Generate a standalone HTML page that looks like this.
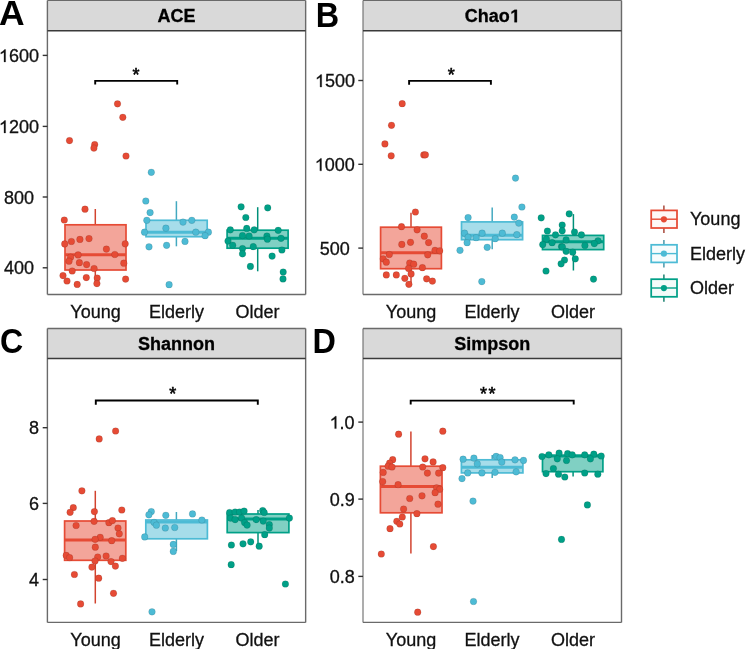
<!DOCTYPE html><html><head><meta charset="utf-8"><style>html,body{margin:0;padding:0;background:#fff;}svg{display:block;will-change:transform;}text{font-family:"Liberation Sans",sans-serif;}</style></head><body>
<svg width="746" height="649" viewBox="0 0 746 649">
<rect x="0" y="0" width="746" height="649" fill="#fff"/>
<rect x="47.4" y="30.7" width="258.25" height="263.80" fill="#fff"/>
<line x1="95.3" y1="209.0" x2="95.3" y2="224.8" stroke="#D2432F" stroke-width="1.5"/>
<line x1="95.3" y1="270.0" x2="95.3" y2="283.6" stroke="#D2432F" stroke-width="1.5"/>
<rect x="65.0" y="224.8" width="61.00" height="45.20" fill="#F3A59A" stroke="#E64B35" stroke-width="1.7"/>
<line x1="65.0" y1="254.8" x2="126.0" y2="254.8" stroke="#E64B35" stroke-width="3"/>
<line x1="176.4" y1="201.2" x2="176.4" y2="220.3" stroke="#44A9C0" stroke-width="1.5"/>
<line x1="176.4" y1="236.7" x2="176.4" y2="246.3" stroke="#44A9C0" stroke-width="1.5"/>
<rect x="146.0" y="220.3" width="61.20" height="16.40" fill="#A6DDEA" stroke="#4DBBD5" stroke-width="1.7"/>
<line x1="146.0" y1="232.2" x2="207.2" y2="232.2" stroke="#4DBBD5" stroke-width="3"/>
<line x1="257.7" y1="207.2" x2="257.7" y2="230.2" stroke="#009079" stroke-width="1.5"/>
<line x1="257.7" y1="248.2" x2="257.7" y2="271.3" stroke="#009079" stroke-width="1.5"/>
<rect x="227.1" y="230.2" width="61.00" height="18.00" fill="#80D0C3" stroke="#00A087" stroke-width="1.7"/>
<line x1="227.1" y1="238.2" x2="288.1" y2="238.2" stroke="#00A087" stroke-width="3"/>
<circle cx="117.5" cy="103.8" r="3.35" fill="#E64B35" stroke="#000" stroke-opacity="0.13" stroke-width="0.8"/>
<circle cx="122.8" cy="117.3" r="3.35" fill="#E64B35" stroke="#000" stroke-opacity="0.13" stroke-width="0.8"/>
<circle cx="69.5" cy="140.6" r="3.35" fill="#E64B35" stroke="#000" stroke-opacity="0.13" stroke-width="0.8"/>
<circle cx="94.7" cy="144.6" r="3.35" fill="#E64B35" stroke="#000" stroke-opacity="0.13" stroke-width="0.8"/>
<circle cx="93.9" cy="148.1" r="3.35" fill="#E64B35" stroke="#000" stroke-opacity="0.13" stroke-width="0.8"/>
<circle cx="126" cy="156" r="3.35" fill="#E64B35" stroke="#000" stroke-opacity="0.13" stroke-width="0.8"/>
<circle cx="85.0" cy="209.2" r="3.35" fill="#E64B35" stroke="#000" stroke-opacity="0.13" stroke-width="0.8"/>
<circle cx="64.3" cy="220" r="3.35" fill="#E64B35" stroke="#000" stroke-opacity="0.13" stroke-width="0.8"/>
<circle cx="64.7" cy="243.9" r="3.35" fill="#E64B35" stroke="#000" stroke-opacity="0.13" stroke-width="0.8"/>
<circle cx="71.4" cy="241.5" r="3.35" fill="#E64B35" stroke="#000" stroke-opacity="0.13" stroke-width="0.8"/>
<circle cx="79.9" cy="239.4" r="3.35" fill="#E64B35" stroke="#000" stroke-opacity="0.13" stroke-width="0.8"/>
<circle cx="89.0" cy="238.6" r="3.35" fill="#E64B35" stroke="#000" stroke-opacity="0.13" stroke-width="0.8"/>
<circle cx="125.2" cy="243.8" r="3.35" fill="#E64B35" stroke="#000" stroke-opacity="0.13" stroke-width="0.8"/>
<circle cx="106.4" cy="249.1" r="3.35" fill="#E64B35" stroke="#000" stroke-opacity="0.13" stroke-width="0.8"/>
<circle cx="114.8" cy="254.5" r="3.35" fill="#E64B35" stroke="#000" stroke-opacity="0.13" stroke-width="0.8"/>
<circle cx="78.1" cy="254.9" r="3.35" fill="#E64B35" stroke="#000" stroke-opacity="0.13" stroke-width="0.8"/>
<circle cx="70.6" cy="257.2" r="3.35" fill="#E64B35" stroke="#000" stroke-opacity="0.13" stroke-width="0.8"/>
<circle cx="69.0" cy="261.2" r="3.35" fill="#E64B35" stroke="#000" stroke-opacity="0.13" stroke-width="0.8"/>
<circle cx="79.4" cy="262.7" r="3.35" fill="#E64B35" stroke="#000" stroke-opacity="0.13" stroke-width="0.8"/>
<circle cx="86.6" cy="264.6" r="3.35" fill="#E64B35" stroke="#000" stroke-opacity="0.13" stroke-width="0.8"/>
<circle cx="123.8" cy="263.2" r="3.35" fill="#E64B35" stroke="#000" stroke-opacity="0.13" stroke-width="0.8"/>
<circle cx="94.1" cy="268.5" r="3.35" fill="#E64B35" stroke="#000" stroke-opacity="0.13" stroke-width="0.8"/>
<circle cx="72.2" cy="271" r="3.35" fill="#E64B35" stroke="#000" stroke-opacity="0.13" stroke-width="0.8"/>
<circle cx="63.0" cy="275.6" r="3.35" fill="#E64B35" stroke="#000" stroke-opacity="0.13" stroke-width="0.8"/>
<circle cx="67.0" cy="281" r="3.35" fill="#E64B35" stroke="#000" stroke-opacity="0.13" stroke-width="0.8"/>
<circle cx="86.3" cy="277.6" r="3.35" fill="#E64B35" stroke="#000" stroke-opacity="0.13" stroke-width="0.8"/>
<circle cx="97.2" cy="278" r="3.35" fill="#E64B35" stroke="#000" stroke-opacity="0.13" stroke-width="0.8"/>
<circle cx="96.9" cy="283.6" r="3.35" fill="#E64B35" stroke="#000" stroke-opacity="0.13" stroke-width="0.8"/>
<circle cx="77.2" cy="284.4" r="3.35" fill="#E64B35" stroke="#000" stroke-opacity="0.13" stroke-width="0.8"/>
<circle cx="125.6" cy="279.1" r="3.35" fill="#E64B35" stroke="#000" stroke-opacity="0.13" stroke-width="0.8"/>
<circle cx="151.3" cy="172.3" r="3.35" fill="#4DBBD5" stroke="#000" stroke-opacity="0.13" stroke-width="0.8"/>
<circle cx="145.8" cy="201" r="3.35" fill="#4DBBD5" stroke="#000" stroke-opacity="0.13" stroke-width="0.8"/>
<circle cx="150.1" cy="212.6" r="3.35" fill="#4DBBD5" stroke="#000" stroke-opacity="0.13" stroke-width="0.8"/>
<circle cx="146.8" cy="220.3" r="3.35" fill="#4DBBD5" stroke="#000" stroke-opacity="0.13" stroke-width="0.8"/>
<circle cx="165.9" cy="228.2" r="3.35" fill="#4DBBD5" stroke="#000" stroke-opacity="0.13" stroke-width="0.8"/>
<circle cx="183" cy="222.1" r="3.35" fill="#4DBBD5" stroke="#000" stroke-opacity="0.13" stroke-width="0.8"/>
<circle cx="191.8" cy="220.3" r="3.35" fill="#4DBBD5" stroke="#000" stroke-opacity="0.13" stroke-width="0.8"/>
<circle cx="144.5" cy="232.2" r="3.35" fill="#4DBBD5" stroke="#000" stroke-opacity="0.13" stroke-width="0.8"/>
<circle cx="195.8" cy="232.2" r="3.35" fill="#4DBBD5" stroke="#000" stroke-opacity="0.13" stroke-width="0.8"/>
<circle cx="208.4" cy="232.2" r="3.35" fill="#4DBBD5" stroke="#000" stroke-opacity="0.13" stroke-width="0.8"/>
<circle cx="205.1" cy="235.7" r="3.35" fill="#4DBBD5" stroke="#000" stroke-opacity="0.13" stroke-width="0.8"/>
<circle cx="185" cy="241.4" r="3.35" fill="#4DBBD5" stroke="#000" stroke-opacity="0.13" stroke-width="0.8"/>
<circle cx="149" cy="246.8" r="3.35" fill="#4DBBD5" stroke="#000" stroke-opacity="0.13" stroke-width="0.8"/>
<circle cx="166.6" cy="245.3" r="3.35" fill="#4DBBD5" stroke="#000" stroke-opacity="0.13" stroke-width="0.8"/>
<circle cx="169.1" cy="284.7" r="3.35" fill="#4DBBD5" stroke="#000" stroke-opacity="0.13" stroke-width="0.8"/>
<circle cx="241.1" cy="206.8" r="3.35" fill="#00A087" stroke="#000" stroke-opacity="0.13" stroke-width="0.8"/>
<circle cx="267.7" cy="207.8" r="3.35" fill="#00A087" stroke="#000" stroke-opacity="0.13" stroke-width="0.8"/>
<circle cx="245.8" cy="217.5" r="3.35" fill="#00A087" stroke="#000" stroke-opacity="0.13" stroke-width="0.8"/>
<circle cx="230.3" cy="229.8" r="3.35" fill="#00A087" stroke="#000" stroke-opacity="0.13" stroke-width="0.8"/>
<circle cx="246.7" cy="228.4" r="3.35" fill="#00A087" stroke="#000" stroke-opacity="0.13" stroke-width="0.8"/>
<circle cx="254.2" cy="229.8" r="3.35" fill="#00A087" stroke="#000" stroke-opacity="0.13" stroke-width="0.8"/>
<circle cx="278.2" cy="230.3" r="3.35" fill="#00A087" stroke="#000" stroke-opacity="0.13" stroke-width="0.8"/>
<circle cx="242.5" cy="235.5" r="3.35" fill="#00A087" stroke="#000" stroke-opacity="0.13" stroke-width="0.8"/>
<circle cx="249.1" cy="236" r="3.35" fill="#00A087" stroke="#000" stroke-opacity="0.13" stroke-width="0.8"/>
<circle cx="266.9" cy="236" r="3.35" fill="#00A087" stroke="#000" stroke-opacity="0.13" stroke-width="0.8"/>
<circle cx="267.4" cy="239.2" r="3.35" fill="#00A087" stroke="#000" stroke-opacity="0.13" stroke-width="0.8"/>
<circle cx="281" cy="238.3" r="3.35" fill="#00A087" stroke="#000" stroke-opacity="0.13" stroke-width="0.8"/>
<circle cx="228" cy="241.1" r="3.35" fill="#00A087" stroke="#000" stroke-opacity="0.13" stroke-width="0.8"/>
<circle cx="232.7" cy="245.3" r="3.35" fill="#00A087" stroke="#000" stroke-opacity="0.13" stroke-width="0.8"/>
<circle cx="242.5" cy="248.6" r="3.35" fill="#00A087" stroke="#000" stroke-opacity="0.13" stroke-width="0.8"/>
<circle cx="253.3" cy="246.7" r="3.35" fill="#00A087" stroke="#000" stroke-opacity="0.13" stroke-width="0.8"/>
<circle cx="242.5" cy="253.8" r="3.35" fill="#00A087" stroke="#000" stroke-opacity="0.13" stroke-width="0.8"/>
<circle cx="281.9" cy="250" r="3.35" fill="#00A087" stroke="#000" stroke-opacity="0.13" stroke-width="0.8"/>
<circle cx="272.1" cy="256.1" r="3.35" fill="#00A087" stroke="#000" stroke-opacity="0.13" stroke-width="0.8"/>
<circle cx="250.4" cy="266.4" r="3.35" fill="#00A087" stroke="#000" stroke-opacity="0.13" stroke-width="0.8"/>
<circle cx="283.2" cy="272" r="3.35" fill="#00A087" stroke="#000" stroke-opacity="0.13" stroke-width="0.8"/>
<circle cx="283" cy="278.9" r="3.35" fill="#00A087" stroke="#000" stroke-opacity="0.13" stroke-width="0.8"/>
<path d="M95.2 84.6 V80.9 H177.2 V84.6" fill="none" stroke="#000" stroke-width="1.9"/>
<text x="135.9" y="80.6" font-size="18" text-anchor="middle" fill="#000" stroke="#000" stroke-width="0.55">*</text>
<rect x="47.4" y="0.4" width="258.25" height="30.30" fill="#D9D9D9"/>
<line x1="47.4" y1="0.4" x2="47.4" y2="294.5" stroke="#6a6a6a" stroke-width="1.4"/>
<line x1="305.65" y1="0.4" x2="305.65" y2="294.5" stroke="#6a6a6a" stroke-width="1.4"/>
<line x1="47.4" y1="0.4" x2="305.65" y2="0.4" stroke="#6a6a6a" stroke-width="1.4"/>
<line x1="47.4" y1="294.5" x2="305.65" y2="294.5" stroke="#6a6a6a" stroke-width="1.4"/>
<line x1="47.4" y1="30.7" x2="305.65" y2="30.7" stroke="#3a3a3a" stroke-width="1.6"/>
<text x="176.52" y="22.20" font-size="18" font-weight="bold" text-anchor="middle" fill="#000"  stroke="#000" stroke-width="0.3">ACE</text>
<line x1="42.70" y1="55.4" x2="47.4" y2="55.4" stroke="#333" stroke-width="1.4"/>
<text x="-1.12" y="61.90" font-size="18" fill="#111"  stroke="#111" stroke-width="0.3"> 600</text>
<path transform="translate(-1.12 61.90) scale(0.008789 -0.008789)" d="M583 0V1102Q413 994 221 894V1061Q466 1180 646 1409H763V0Z" fill="#111" stroke="#111" stroke-width="34.1"/>
<line x1="42.70" y1="126.4" x2="47.4" y2="126.4" stroke="#333" stroke-width="1.4"/>
<text x="-1.12" y="132.90" font-size="18" fill="#111"  stroke="#111" stroke-width="0.3"> 200</text>
<path transform="translate(-1.12 132.90) scale(0.008789 -0.008789)" d="M583 0V1102Q413 994 221 894V1061Q466 1180 646 1409H763V0Z" fill="#111" stroke="#111" stroke-width="34.1"/>
<line x1="42.70" y1="197.0" x2="47.4" y2="197.0" stroke="#333" stroke-width="1.4"/>
<text x="19.10" y="203.50" font-size="18" text-anchor="middle" fill="#111"  stroke="#111" stroke-width="0.3">800</text>
<line x1="42.70" y1="267.8" x2="47.4" y2="267.8" stroke="#333" stroke-width="1.4"/>
<text x="19.00" y="274.30" font-size="18" text-anchor="middle" fill="#111"  stroke="#111" stroke-width="0.3">400</text>
<text x="95.50" y="317.70" font-size="18" text-anchor="middle" fill="#111"  stroke="#111" stroke-width="0.3">Young</text>
<text x="176.50" y="317.70" font-size="18" text-anchor="middle" fill="#111"  stroke="#111" stroke-width="0.3">Elderly</text>
<text x="257.50" y="317.70" font-size="18" text-anchor="middle" fill="#111"  stroke="#111" stroke-width="0.3">Older</text>
<text transform="translate(-0.90 25.2) scale(1.03 1.02)" x="0" y="0" font-size="34.5" font-weight="bold" fill="#000">A</text>
<rect x="363.0" y="30.7" width="258.50" height="263.80" fill="#fff"/>
<line x1="411.0" y1="212.8" x2="411.0" y2="227.2" stroke="#D2432F" stroke-width="1.5"/>
<line x1="411.0" y1="268.7" x2="411.0" y2="284.0" stroke="#D2432F" stroke-width="1.5"/>
<rect x="380.6" y="227.2" width="60.80" height="41.50" fill="#F3A59A" stroke="#E64B35" stroke-width="1.7"/>
<line x1="380.6" y1="252.8" x2="441.4" y2="252.8" stroke="#E64B35" stroke-width="3"/>
<line x1="492.2" y1="207.5" x2="492.2" y2="221.9" stroke="#44A9C0" stroke-width="1.5"/>
<line x1="492.2" y1="239.7" x2="492.2" y2="249.3" stroke="#44A9C0" stroke-width="1.5"/>
<rect x="461.5" y="221.9" width="61.10" height="17.80" fill="#A6DDEA" stroke="#4DBBD5" stroke-width="1.7"/>
<line x1="461.5" y1="235.2" x2="522.6" y2="235.2" stroke="#4DBBD5" stroke-width="3"/>
<line x1="573.4" y1="214.1" x2="573.4" y2="235.4" stroke="#009079" stroke-width="1.5"/>
<line x1="573.4" y1="249.6" x2="573.4" y2="270.5" stroke="#009079" stroke-width="1.5"/>
<rect x="542.5" y="235.4" width="61.20" height="14.20" fill="#80D0C3" stroke="#00A087" stroke-width="1.7"/>
<line x1="542.5" y1="241.8" x2="603.7" y2="241.8" stroke="#00A087" stroke-width="3"/>
<circle cx="402.2" cy="103.7" r="3.35" fill="#E64B35" stroke="#000" stroke-opacity="0.13" stroke-width="0.8"/>
<circle cx="391.5" cy="125.3" r="3.35" fill="#E64B35" stroke="#000" stroke-opacity="0.13" stroke-width="0.8"/>
<circle cx="384.9" cy="143.9" r="3.35" fill="#E64B35" stroke="#000" stroke-opacity="0.13" stroke-width="0.8"/>
<circle cx="391.2" cy="155.8" r="3.35" fill="#E64B35" stroke="#000" stroke-opacity="0.13" stroke-width="0.8"/>
<circle cx="423.8" cy="154.9" r="3.35" fill="#E64B35" stroke="#000" stroke-opacity="0.13" stroke-width="0.8"/>
<circle cx="425.4" cy="154.8" r="3.35" fill="#E64B35" stroke="#000" stroke-opacity="0.13" stroke-width="0.8"/>
<circle cx="415.4" cy="212" r="3.35" fill="#E64B35" stroke="#000" stroke-opacity="0.13" stroke-width="0.8"/>
<circle cx="401.5" cy="226.7" r="3.35" fill="#E64B35" stroke="#000" stroke-opacity="0.13" stroke-width="0.8"/>
<circle cx="417.1" cy="229.8" r="3.35" fill="#E64B35" stroke="#000" stroke-opacity="0.13" stroke-width="0.8"/>
<circle cx="424.3" cy="236.2" r="3.35" fill="#E64B35" stroke="#000" stroke-opacity="0.13" stroke-width="0.8"/>
<circle cx="428.6" cy="242.6" r="3.35" fill="#E64B35" stroke="#000" stroke-opacity="0.13" stroke-width="0.8"/>
<circle cx="401.8" cy="244.4" r="3.35" fill="#E64B35" stroke="#000" stroke-opacity="0.13" stroke-width="0.8"/>
<circle cx="410.5" cy="242.3" r="3.35" fill="#E64B35" stroke="#000" stroke-opacity="0.13" stroke-width="0.8"/>
<circle cx="435" cy="250.3" r="3.35" fill="#E64B35" stroke="#000" stroke-opacity="0.13" stroke-width="0.8"/>
<circle cx="439.7" cy="250.8" r="3.35" fill="#E64B35" stroke="#000" stroke-opacity="0.13" stroke-width="0.8"/>
<circle cx="389.3" cy="254.5" r="3.35" fill="#E64B35" stroke="#000" stroke-opacity="0.13" stroke-width="0.8"/>
<circle cx="427.7" cy="254.8" r="3.35" fill="#E64B35" stroke="#000" stroke-opacity="0.13" stroke-width="0.8"/>
<circle cx="383.2" cy="258.8" r="3.35" fill="#E64B35" stroke="#000" stroke-opacity="0.13" stroke-width="0.8"/>
<circle cx="386.3" cy="262.2" r="3.35" fill="#E64B35" stroke="#000" stroke-opacity="0.13" stroke-width="0.8"/>
<circle cx="409.7" cy="263" r="3.35" fill="#E64B35" stroke="#000" stroke-opacity="0.13" stroke-width="0.8"/>
<circle cx="413.7" cy="264.2" r="3.35" fill="#E64B35" stroke="#000" stroke-opacity="0.13" stroke-width="0.8"/>
<circle cx="408.6" cy="268.4" r="3.35" fill="#E64B35" stroke="#000" stroke-opacity="0.13" stroke-width="0.8"/>
<circle cx="422.4" cy="267.7" r="3.35" fill="#E64B35" stroke="#000" stroke-opacity="0.13" stroke-width="0.8"/>
<circle cx="386.3" cy="274.9" r="3.35" fill="#E64B35" stroke="#000" stroke-opacity="0.13" stroke-width="0.8"/>
<circle cx="396.3" cy="274.9" r="3.35" fill="#E64B35" stroke="#000" stroke-opacity="0.13" stroke-width="0.8"/>
<circle cx="411.1" cy="273.9" r="3.35" fill="#E64B35" stroke="#000" stroke-opacity="0.13" stroke-width="0.8"/>
<circle cx="404.8" cy="278.3" r="3.35" fill="#E64B35" stroke="#000" stroke-opacity="0.13" stroke-width="0.8"/>
<circle cx="408.9" cy="284.3" r="3.35" fill="#E64B35" stroke="#000" stroke-opacity="0.13" stroke-width="0.8"/>
<circle cx="426.6" cy="278.8" r="3.35" fill="#E64B35" stroke="#000" stroke-opacity="0.13" stroke-width="0.8"/>
<circle cx="432.4" cy="281.1" r="3.35" fill="#E64B35" stroke="#000" stroke-opacity="0.13" stroke-width="0.8"/>
<circle cx="515.5" cy="178.1" r="3.35" fill="#4DBBD5" stroke="#000" stroke-opacity="0.13" stroke-width="0.8"/>
<circle cx="521.9" cy="207" r="3.35" fill="#4DBBD5" stroke="#000" stroke-opacity="0.13" stroke-width="0.8"/>
<circle cx="468.1" cy="217.6" r="3.35" fill="#4DBBD5" stroke="#000" stroke-opacity="0.13" stroke-width="0.8"/>
<circle cx="514.3" cy="217.1" r="3.35" fill="#4DBBD5" stroke="#000" stroke-opacity="0.13" stroke-width="0.8"/>
<circle cx="518.8" cy="223.1" r="3.35" fill="#4DBBD5" stroke="#000" stroke-opacity="0.13" stroke-width="0.8"/>
<circle cx="464.6" cy="233.2" r="3.35" fill="#4DBBD5" stroke="#000" stroke-opacity="0.13" stroke-width="0.8"/>
<circle cx="482.1" cy="233.2" r="3.35" fill="#4DBBD5" stroke="#000" stroke-opacity="0.13" stroke-width="0.8"/>
<circle cx="502.3" cy="233.2" r="3.35" fill="#4DBBD5" stroke="#000" stroke-opacity="0.13" stroke-width="0.8"/>
<circle cx="516.8" cy="234.7" r="3.35" fill="#4DBBD5" stroke="#000" stroke-opacity="0.13" stroke-width="0.8"/>
<circle cx="468.1" cy="237.2" r="3.35" fill="#4DBBD5" stroke="#000" stroke-opacity="0.13" stroke-width="0.8"/>
<circle cx="476.1" cy="237.7" r="3.35" fill="#4DBBD5" stroke="#000" stroke-opacity="0.13" stroke-width="0.8"/>
<circle cx="495.2" cy="238.7" r="3.35" fill="#4DBBD5" stroke="#000" stroke-opacity="0.13" stroke-width="0.8"/>
<circle cx="467.1" cy="242.7" r="3.35" fill="#4DBBD5" stroke="#000" stroke-opacity="0.13" stroke-width="0.8"/>
<circle cx="487.2" cy="247.3" r="3.35" fill="#4DBBD5" stroke="#000" stroke-opacity="0.13" stroke-width="0.8"/>
<circle cx="460" cy="250.3" r="3.35" fill="#4DBBD5" stroke="#000" stroke-opacity="0.13" stroke-width="0.8"/>
<circle cx="481.8" cy="281.6" r="3.35" fill="#4DBBD5" stroke="#000" stroke-opacity="0.13" stroke-width="0.8"/>
<circle cx="569.2" cy="213.8" r="3.35" fill="#00A087" stroke="#000" stroke-opacity="0.13" stroke-width="0.8"/>
<circle cx="541.2" cy="217.8" r="3.35" fill="#00A087" stroke="#000" stroke-opacity="0.13" stroke-width="0.8"/>
<circle cx="562.2" cy="225" r="3.35" fill="#00A087" stroke="#000" stroke-opacity="0.13" stroke-width="0.8"/>
<circle cx="562.2" cy="230.8" r="3.35" fill="#00A087" stroke="#000" stroke-opacity="0.13" stroke-width="0.8"/>
<circle cx="547.4" cy="231" r="3.35" fill="#00A087" stroke="#000" stroke-opacity="0.13" stroke-width="0.8"/>
<circle cx="574.5" cy="232" r="3.35" fill="#00A087" stroke="#000" stroke-opacity="0.13" stroke-width="0.8"/>
<circle cx="555.5" cy="234.8" r="3.35" fill="#00A087" stroke="#000" stroke-opacity="0.13" stroke-width="0.8"/>
<circle cx="581.4" cy="234.8" r="3.35" fill="#00A087" stroke="#000" stroke-opacity="0.13" stroke-width="0.8"/>
<circle cx="546.4" cy="239" r="3.35" fill="#00A087" stroke="#000" stroke-opacity="0.13" stroke-width="0.8"/>
<circle cx="566.1" cy="239.9" r="3.35" fill="#00A087" stroke="#000" stroke-opacity="0.13" stroke-width="0.8"/>
<circle cx="552.1" cy="242.7" r="3.35" fill="#00A087" stroke="#000" stroke-opacity="0.13" stroke-width="0.8"/>
<circle cx="598" cy="240.8" r="3.35" fill="#00A087" stroke="#000" stroke-opacity="0.13" stroke-width="0.8"/>
<circle cx="594.3" cy="243.6" r="3.35" fill="#00A087" stroke="#000" stroke-opacity="0.13" stroke-width="0.8"/>
<circle cx="542.7" cy="244.6" r="3.35" fill="#00A087" stroke="#000" stroke-opacity="0.13" stroke-width="0.8"/>
<circle cx="584.9" cy="245.5" r="3.35" fill="#00A087" stroke="#000" stroke-opacity="0.13" stroke-width="0.8"/>
<circle cx="561.5" cy="246.5" r="3.35" fill="#00A087" stroke="#000" stroke-opacity="0.13" stroke-width="0.8"/>
<circle cx="562.4" cy="247" r="3.35" fill="#00A087" stroke="#000" stroke-opacity="0.13" stroke-width="0.8"/>
<circle cx="566.1" cy="251.3" r="3.35" fill="#00A087" stroke="#000" stroke-opacity="0.13" stroke-width="0.8"/>
<circle cx="572.7" cy="252.2" r="3.35" fill="#00A087" stroke="#000" stroke-opacity="0.13" stroke-width="0.8"/>
<circle cx="575.3" cy="258.8" r="3.35" fill="#00A087" stroke="#000" stroke-opacity="0.13" stroke-width="0.8"/>
<circle cx="564.5" cy="260" r="3.35" fill="#00A087" stroke="#000" stroke-opacity="0.13" stroke-width="0.8"/>
<circle cx="561.1" cy="263.8" r="3.35" fill="#00A087" stroke="#000" stroke-opacity="0.13" stroke-width="0.8"/>
<circle cx="546" cy="271" r="3.35" fill="#00A087" stroke="#000" stroke-opacity="0.13" stroke-width="0.8"/>
<circle cx="593.5" cy="279.1" r="3.35" fill="#00A087" stroke="#000" stroke-opacity="0.13" stroke-width="0.8"/>
<path d="M409.1 84.7 V80.9 H490.9 V84.7" fill="none" stroke="#000" stroke-width="1.9"/>
<text x="451.3" y="81.2" font-size="18" text-anchor="middle" fill="#000" stroke="#000" stroke-width="0.55">*</text>
<rect x="363.0" y="0.4" width="258.50" height="30.30" fill="#D9D9D9"/>
<line x1="363.0" y1="0.4" x2="363.0" y2="294.5" stroke="#6a6a6a" stroke-width="1.1"/>
<line x1="621.5" y1="0.4" x2="621.5" y2="294.5" stroke="#6a6a6a" stroke-width="1.4"/>
<line x1="363.0" y1="0.4" x2="621.5" y2="0.4" stroke="#6a6a6a" stroke-width="1.4"/>
<line x1="363.0" y1="294.5" x2="621.5" y2="294.5" stroke="#6a6a6a" stroke-width="1.4"/>
<line x1="363.0" y1="30.7" x2="621.5" y2="30.7" stroke="#3a3a3a" stroke-width="1.6"/>
<text x="464.74" y="22.20" font-size="18" font-weight="bold" fill="#000"  stroke="#000" stroke-width="0.3">Chao </text>
<path transform="translate(509.74 22.20) scale(0.008789 -0.008789)" d="M538 0V1170L200 959V1180L553 1409H819V0Z" fill="#000" stroke="#000" stroke-width="34.1"/>
<line x1="358.30" y1="80.5" x2="363.0" y2="80.5" stroke="#333" stroke-width="1.4"/>
<text x="314.98" y="87.00" font-size="18" fill="#111"  stroke="#111" stroke-width="0.3"> 500</text>
<path transform="translate(314.98 87.00) scale(0.008789 -0.008789)" d="M583 0V1102Q413 994 221 894V1061Q466 1180 646 1409H763V0Z" fill="#111" stroke="#111" stroke-width="34.1"/>
<line x1="358.30" y1="164.3" x2="363.0" y2="164.3" stroke="#333" stroke-width="1.4"/>
<text x="314.78" y="170.80" font-size="18" fill="#111"  stroke="#111" stroke-width="0.3"> 000</text>
<path transform="translate(314.78 170.80) scale(0.008789 -0.008789)" d="M583 0V1102Q413 994 221 894V1061Q466 1180 646 1409H763V0Z" fill="#111" stroke="#111" stroke-width="34.1"/>
<line x1="358.30" y1="248.1" x2="363.0" y2="248.1" stroke="#333" stroke-width="1.4"/>
<text x="334.70" y="254.60" font-size="18" text-anchor="middle" fill="#111"  stroke="#111" stroke-width="0.3">500</text>
<text x="411.00" y="317.70" font-size="18" text-anchor="middle" fill="#111"  stroke="#111" stroke-width="0.3">Young</text>
<text x="492.00" y="317.70" font-size="18" text-anchor="middle" fill="#111"  stroke="#111" stroke-width="0.3">Elderly</text>
<text x="573.00" y="317.70" font-size="18" text-anchor="middle" fill="#111"  stroke="#111" stroke-width="0.3">Older</text>
<text transform="translate(315.70 26.6) scale(0.94 1.02)" x="0" y="0" font-size="34.5" font-weight="bold" fill="#000">B</text>
<rect x="47.4" y="358.5" width="258.25" height="263.90" fill="#fff"/>
<line x1="95.3" y1="490.8" x2="95.3" y2="521.0" stroke="#D2432F" stroke-width="1.5"/>
<line x1="95.3" y1="560.3" x2="95.3" y2="603.5" stroke="#D2432F" stroke-width="1.5"/>
<rect x="64.6" y="521.0" width="61.20" height="39.30" fill="#F3A59A" stroke="#E64B35" stroke-width="1.7"/>
<line x1="64.6" y1="540.0" x2="125.8" y2="540.0" stroke="#E64B35" stroke-width="3"/>
<line x1="176.4" y1="512.0" x2="176.4" y2="520.0" stroke="#44A9C0" stroke-width="1.5"/>
<line x1="176.4" y1="538.8" x2="176.4" y2="551.0" stroke="#44A9C0" stroke-width="1.5"/>
<rect x="145.8" y="520.0" width="61.60" height="18.80" fill="#A6DDEA" stroke="#4DBBD5" stroke-width="1.7"/>
<line x1="145.8" y1="521.9" x2="207.4" y2="521.9" stroke="#4DBBD5" stroke-width="3"/>
<line x1="258.0" y1="510.0" x2="258.0" y2="514.0" stroke="#009079" stroke-width="1.5"/>
<line x1="258.0" y1="532.6" x2="258.0" y2="546.0" stroke="#009079" stroke-width="1.5"/>
<rect x="227.2" y="514.0" width="61.70" height="18.60" fill="#80D0C3" stroke="#00A087" stroke-width="1.7"/>
<line x1="227.2" y1="519.1" x2="288.9" y2="519.1" stroke="#00A087" stroke-width="3"/>
<circle cx="115.6" cy="431" r="3.35" fill="#E64B35" stroke="#000" stroke-opacity="0.13" stroke-width="0.8"/>
<circle cx="99.2" cy="438.9" r="3.35" fill="#E64B35" stroke="#000" stroke-opacity="0.13" stroke-width="0.8"/>
<circle cx="81.9" cy="490.8" r="3.35" fill="#E64B35" stroke="#000" stroke-opacity="0.13" stroke-width="0.8"/>
<circle cx="73.3" cy="507.7" r="3.35" fill="#E64B35" stroke="#000" stroke-opacity="0.13" stroke-width="0.8"/>
<circle cx="70.1" cy="512.3" r="3.35" fill="#E64B35" stroke="#000" stroke-opacity="0.13" stroke-width="0.8"/>
<circle cx="94.4" cy="511.6" r="3.35" fill="#E64B35" stroke="#000" stroke-opacity="0.13" stroke-width="0.8"/>
<circle cx="121.8" cy="510" r="3.35" fill="#E64B35" stroke="#000" stroke-opacity="0.13" stroke-width="0.8"/>
<circle cx="94.1" cy="521.3" r="3.35" fill="#E64B35" stroke="#000" stroke-opacity="0.13" stroke-width="0.8"/>
<circle cx="76.1" cy="525.5" r="3.35" fill="#E64B35" stroke="#000" stroke-opacity="0.13" stroke-width="0.8"/>
<circle cx="108.9" cy="522.7" r="3.35" fill="#E64B35" stroke="#000" stroke-opacity="0.13" stroke-width="0.8"/>
<circle cx="112.4" cy="520.6" r="3.35" fill="#E64B35" stroke="#000" stroke-opacity="0.13" stroke-width="0.8"/>
<circle cx="118" cy="528" r="3.35" fill="#E64B35" stroke="#000" stroke-opacity="0.13" stroke-width="0.8"/>
<circle cx="119.3" cy="533.8" r="3.35" fill="#E64B35" stroke="#000" stroke-opacity="0.13" stroke-width="0.8"/>
<circle cx="100.2" cy="537.3" r="3.35" fill="#E64B35" stroke="#000" stroke-opacity="0.13" stroke-width="0.8"/>
<circle cx="95.1" cy="539.3" r="3.35" fill="#E64B35" stroke="#000" stroke-opacity="0.13" stroke-width="0.8"/>
<circle cx="111.7" cy="540.7" r="3.35" fill="#E64B35" stroke="#000" stroke-opacity="0.13" stroke-width="0.8"/>
<circle cx="95.3" cy="547.2" r="3.35" fill="#E64B35" stroke="#000" stroke-opacity="0.13" stroke-width="0.8"/>
<circle cx="66.2" cy="555.4" r="3.35" fill="#E64B35" stroke="#000" stroke-opacity="0.13" stroke-width="0.8"/>
<circle cx="69.6" cy="557.7" r="3.35" fill="#E64B35" stroke="#000" stroke-opacity="0.13" stroke-width="0.8"/>
<circle cx="97.7" cy="557" r="3.35" fill="#E64B35" stroke="#000" stroke-opacity="0.13" stroke-width="0.8"/>
<circle cx="106.1" cy="556" r="3.35" fill="#E64B35" stroke="#000" stroke-opacity="0.13" stroke-width="0.8"/>
<circle cx="122.4" cy="558.3" r="3.35" fill="#E64B35" stroke="#000" stroke-opacity="0.13" stroke-width="0.8"/>
<circle cx="95" cy="561" r="3.35" fill="#E64B35" stroke="#000" stroke-opacity="0.13" stroke-width="0.8"/>
<circle cx="111" cy="561.6" r="3.35" fill="#E64B35" stroke="#000" stroke-opacity="0.13" stroke-width="0.8"/>
<circle cx="115.4" cy="566.1" r="3.35" fill="#E64B35" stroke="#000" stroke-opacity="0.13" stroke-width="0.8"/>
<circle cx="91.9" cy="567.1" r="3.35" fill="#E64B35" stroke="#000" stroke-opacity="0.13" stroke-width="0.8"/>
<circle cx="74.4" cy="574.5" r="3.35" fill="#E64B35" stroke="#000" stroke-opacity="0.13" stroke-width="0.8"/>
<circle cx="98.7" cy="578.2" r="3.35" fill="#E64B35" stroke="#000" stroke-opacity="0.13" stroke-width="0.8"/>
<circle cx="113.5" cy="593.3" r="3.35" fill="#E64B35" stroke="#000" stroke-opacity="0.13" stroke-width="0.8"/>
<circle cx="80.6" cy="603.9" r="3.35" fill="#E64B35" stroke="#000" stroke-opacity="0.13" stroke-width="0.8"/>
<circle cx="151.3" cy="511.6" r="3.35" fill="#4DBBD5" stroke="#000" stroke-opacity="0.13" stroke-width="0.8"/>
<circle cx="148.9" cy="514.8" r="3.35" fill="#4DBBD5" stroke="#000" stroke-opacity="0.13" stroke-width="0.8"/>
<circle cx="165.8" cy="515.3" r="3.35" fill="#4DBBD5" stroke="#000" stroke-opacity="0.13" stroke-width="0.8"/>
<circle cx="192.5" cy="513.9" r="3.35" fill="#4DBBD5" stroke="#000" stroke-opacity="0.13" stroke-width="0.8"/>
<circle cx="201.9" cy="520" r="3.35" fill="#4DBBD5" stroke="#000" stroke-opacity="0.13" stroke-width="0.8"/>
<circle cx="154.1" cy="522.4" r="3.35" fill="#4DBBD5" stroke="#000" stroke-opacity="0.13" stroke-width="0.8"/>
<circle cx="156.4" cy="525.2" r="3.35" fill="#4DBBD5" stroke="#000" stroke-opacity="0.13" stroke-width="0.8"/>
<circle cx="165.3" cy="528" r="3.35" fill="#4DBBD5" stroke="#000" stroke-opacity="0.13" stroke-width="0.8"/>
<circle cx="174.7" cy="527.5" r="3.35" fill="#4DBBD5" stroke="#000" stroke-opacity="0.13" stroke-width="0.8"/>
<circle cx="144.7" cy="536.9" r="3.35" fill="#4DBBD5" stroke="#000" stroke-opacity="0.13" stroke-width="0.8"/>
<circle cx="173.3" cy="544.4" r="3.35" fill="#4DBBD5" stroke="#000" stroke-opacity="0.13" stroke-width="0.8"/>
<circle cx="173.3" cy="551.4" r="3.35" fill="#4DBBD5" stroke="#000" stroke-opacity="0.13" stroke-width="0.8"/>
<circle cx="152" cy="611.8" r="3.35" fill="#4DBBD5" stroke="#000" stroke-opacity="0.13" stroke-width="0.8"/>
<circle cx="229.6" cy="512.5" r="3.35" fill="#00A087" stroke="#000" stroke-opacity="0.13" stroke-width="0.8"/>
<circle cx="235.1" cy="512" r="3.35" fill="#00A087" stroke="#000" stroke-opacity="0.13" stroke-width="0.8"/>
<circle cx="239.6" cy="512" r="3.35" fill="#00A087" stroke="#000" stroke-opacity="0.13" stroke-width="0.8"/>
<circle cx="244.1" cy="511" r="3.35" fill="#00A087" stroke="#000" stroke-opacity="0.13" stroke-width="0.8"/>
<circle cx="262.7" cy="510.5" r="3.35" fill="#00A087" stroke="#000" stroke-opacity="0.13" stroke-width="0.8"/>
<circle cx="264.2" cy="512.5" r="3.35" fill="#00A087" stroke="#000" stroke-opacity="0.13" stroke-width="0.8"/>
<circle cx="230.6" cy="518.1" r="3.35" fill="#00A087" stroke="#000" stroke-opacity="0.13" stroke-width="0.8"/>
<circle cx="235.1" cy="519.6" r="3.35" fill="#00A087" stroke="#000" stroke-opacity="0.13" stroke-width="0.8"/>
<circle cx="241.6" cy="518.1" r="3.35" fill="#00A087" stroke="#000" stroke-opacity="0.13" stroke-width="0.8"/>
<circle cx="244.6" cy="522.6" r="3.35" fill="#00A087" stroke="#000" stroke-opacity="0.13" stroke-width="0.8"/>
<circle cx="247.1" cy="525.1" r="3.35" fill="#00A087" stroke="#000" stroke-opacity="0.13" stroke-width="0.8"/>
<circle cx="256.2" cy="519.6" r="3.35" fill="#00A087" stroke="#000" stroke-opacity="0.13" stroke-width="0.8"/>
<circle cx="263.2" cy="521.1" r="3.35" fill="#00A087" stroke="#000" stroke-opacity="0.13" stroke-width="0.8"/>
<circle cx="269.3" cy="524.6" r="3.35" fill="#00A087" stroke="#000" stroke-opacity="0.13" stroke-width="0.8"/>
<circle cx="269.3" cy="528.1" r="3.35" fill="#00A087" stroke="#000" stroke-opacity="0.13" stroke-width="0.8"/>
<circle cx="289.4" cy="518.1" r="3.35" fill="#00A087" stroke="#000" stroke-opacity="0.13" stroke-width="0.8"/>
<circle cx="264.7" cy="534.7" r="3.35" fill="#00A087" stroke="#000" stroke-opacity="0.13" stroke-width="0.8"/>
<circle cx="231.4" cy="545" r="3.35" fill="#00A087" stroke="#000" stroke-opacity="0.13" stroke-width="0.8"/>
<circle cx="243" cy="543.8" r="3.35" fill="#00A087" stroke="#000" stroke-opacity="0.13" stroke-width="0.8"/>
<circle cx="250.7" cy="541.8" r="3.35" fill="#00A087" stroke="#000" stroke-opacity="0.13" stroke-width="0.8"/>
<circle cx="259.2" cy="546.2" r="3.35" fill="#00A087" stroke="#000" stroke-opacity="0.13" stroke-width="0.8"/>
<circle cx="231.2" cy="564.7" r="3.35" fill="#00A087" stroke="#000" stroke-opacity="0.13" stroke-width="0.8"/>
<circle cx="285.4" cy="584" r="3.35" fill="#00A087" stroke="#000" stroke-opacity="0.13" stroke-width="0.8"/>
<path d="M95.8 404.7 V400.5 H257.8 V404.7" fill="none" stroke="#000" stroke-width="1.9"/>
<text x="172.8" y="400.0" font-size="18" text-anchor="middle" fill="#000" stroke="#000" stroke-width="0.55">*</text>
<rect x="47.4" y="328.5" width="258.25" height="30.00" fill="#D9D9D9"/>
<line x1="47.4" y1="328.5" x2="47.4" y2="622.4" stroke="#6a6a6a" stroke-width="1.4"/>
<line x1="305.65" y1="328.5" x2="305.65" y2="622.4" stroke="#6a6a6a" stroke-width="1.4"/>
<line x1="47.4" y1="328.5" x2="305.65" y2="328.5" stroke="#6a6a6a" stroke-width="1.4"/>
<line x1="47.4" y1="622.4" x2="305.65" y2="622.4" stroke="#6a6a6a" stroke-width="1.4"/>
<line x1="47.4" y1="358.5" x2="305.65" y2="358.5" stroke="#3a3a3a" stroke-width="1.6"/>
<text x="176.52" y="350.00" font-size="18" font-weight="bold" text-anchor="middle" fill="#000"  stroke="#000" stroke-width="0.3">Shannon</text>
<line x1="42.70" y1="427.7" x2="47.4" y2="427.7" stroke="#333" stroke-width="1.4"/>
<text x="39.10" y="434.20" font-size="18" text-anchor="end" fill="#111"  stroke="#111" stroke-width="0.3">8</text>
<line x1="42.70" y1="503.4" x2="47.4" y2="503.4" stroke="#333" stroke-width="1.4"/>
<text x="39.10" y="509.90" font-size="18" text-anchor="end" fill="#111"  stroke="#111" stroke-width="0.3">6</text>
<line x1="42.70" y1="579.5" x2="47.4" y2="579.5" stroke="#333" stroke-width="1.4"/>
<text x="39.10" y="586.00" font-size="18" text-anchor="end" fill="#111"  stroke="#111" stroke-width="0.3">4</text>
<text x="95.50" y="645.60" font-size="18" text-anchor="middle" fill="#111"  stroke="#111" stroke-width="0.3">Young</text>
<text x="176.50" y="645.60" font-size="18" text-anchor="middle" fill="#111"  stroke="#111" stroke-width="0.3">Elderly</text>
<text x="257.50" y="645.60" font-size="18" text-anchor="middle" fill="#111"  stroke="#111" stroke-width="0.3">Older</text>
<text transform="translate(0.00 353.2) scale(0.93 1.02)" x="0" y="0" font-size="34.5" font-weight="bold" fill="#000">C</text>
<rect x="363.0" y="358.5" width="258.50" height="263.90" fill="#fff"/>
<line x1="410.9" y1="431.5" x2="410.9" y2="466.2" stroke="#D2432F" stroke-width="1.5"/>
<line x1="410.9" y1="512.8" x2="410.9" y2="553.6" stroke="#D2432F" stroke-width="1.5"/>
<rect x="380.4" y="466.2" width="61.60" height="46.60" fill="#F3A59A" stroke="#E64B35" stroke-width="1.7"/>
<line x1="380.4" y1="486.5" x2="442.0" y2="486.5" stroke="#E64B35" stroke-width="3"/>
<line x1="492.2" y1="455.0" x2="492.2" y2="459.8" stroke="#44A9C0" stroke-width="1.5"/>
<line x1="492.2" y1="472.9" x2="492.2" y2="478.0" stroke="#44A9C0" stroke-width="1.5"/>
<rect x="461.4" y="459.8" width="61.50" height="13.10" fill="#A6DDEA" stroke="#4DBBD5" stroke-width="1.7"/>
<line x1="461.4" y1="467.2" x2="522.9" y2="467.2" stroke="#4DBBD5" stroke-width="3"/>
<line x1="573.1" y1="454.0" x2="573.1" y2="455.4" stroke="#009079" stroke-width="1.5"/>
<line x1="573.1" y1="471.7" x2="573.1" y2="476.5" stroke="#009079" stroke-width="1.5"/>
<rect x="542.5" y="455.4" width="60.40" height="16.30" fill="#80D0C3" stroke="#00A087" stroke-width="1.7"/>
<line x1="542.5" y1="456.0" x2="602.9" y2="456.0" stroke="#00A087" stroke-width="3"/>
<circle cx="398.6" cy="434.2" r="3.35" fill="#E64B35" stroke="#000" stroke-opacity="0.13" stroke-width="0.8"/>
<circle cx="442.8" cy="431.2" r="3.35" fill="#E64B35" stroke="#000" stroke-opacity="0.13" stroke-width="0.8"/>
<circle cx="392.7" cy="459.7" r="3.35" fill="#E64B35" stroke="#000" stroke-opacity="0.13" stroke-width="0.8"/>
<circle cx="389.6" cy="463.1" r="3.35" fill="#E64B35" stroke="#000" stroke-opacity="0.13" stroke-width="0.8"/>
<circle cx="388.1" cy="466.2" r="3.35" fill="#E64B35" stroke="#000" stroke-opacity="0.13" stroke-width="0.8"/>
<circle cx="392" cy="467" r="3.35" fill="#E64B35" stroke="#000" stroke-opacity="0.13" stroke-width="0.8"/>
<circle cx="383.2" cy="472.4" r="3.35" fill="#E64B35" stroke="#000" stroke-opacity="0.13" stroke-width="0.8"/>
<circle cx="425" cy="458.8" r="3.35" fill="#E64B35" stroke="#000" stroke-opacity="0.13" stroke-width="0.8"/>
<circle cx="433.1" cy="461.9" r="3.35" fill="#E64B35" stroke="#000" stroke-opacity="0.13" stroke-width="0.8"/>
<circle cx="422.7" cy="467" r="3.35" fill="#E64B35" stroke="#000" stroke-opacity="0.13" stroke-width="0.8"/>
<circle cx="427.4" cy="473.1" r="3.35" fill="#E64B35" stroke="#000" stroke-opacity="0.13" stroke-width="0.8"/>
<circle cx="442.8" cy="467.7" r="3.35" fill="#E64B35" stroke="#000" stroke-opacity="0.13" stroke-width="0.8"/>
<circle cx="438.6" cy="473.1" r="3.35" fill="#E64B35" stroke="#000" stroke-opacity="0.13" stroke-width="0.8"/>
<circle cx="382.7" cy="481.6" r="3.35" fill="#E64B35" stroke="#000" stroke-opacity="0.13" stroke-width="0.8"/>
<circle cx="398.1" cy="484.7" r="3.35" fill="#E64B35" stroke="#000" stroke-opacity="0.13" stroke-width="0.8"/>
<circle cx="436.6" cy="487.8" r="3.35" fill="#E64B35" stroke="#000" stroke-opacity="0.13" stroke-width="0.8"/>
<circle cx="439.7" cy="489.3" r="3.35" fill="#E64B35" stroke="#000" stroke-opacity="0.13" stroke-width="0.8"/>
<circle cx="435.1" cy="492.7" r="3.35" fill="#E64B35" stroke="#000" stroke-opacity="0.13" stroke-width="0.8"/>
<circle cx="422" cy="495.8" r="3.35" fill="#E64B35" stroke="#000" stroke-opacity="0.13" stroke-width="0.8"/>
<circle cx="409.7" cy="498.5" r="3.35" fill="#E64B35" stroke="#000" stroke-opacity="0.13" stroke-width="0.8"/>
<circle cx="438" cy="504.2" r="3.35" fill="#E64B35" stroke="#000" stroke-opacity="0.13" stroke-width="0.8"/>
<circle cx="403.6" cy="509" r="3.35" fill="#E64B35" stroke="#000" stroke-opacity="0.13" stroke-width="0.8"/>
<circle cx="416.9" cy="513.7" r="3.35" fill="#E64B35" stroke="#000" stroke-opacity="0.13" stroke-width="0.8"/>
<circle cx="402.3" cy="517" r="3.35" fill="#E64B35" stroke="#000" stroke-opacity="0.13" stroke-width="0.8"/>
<circle cx="396.8" cy="521.3" r="3.35" fill="#E64B35" stroke="#000" stroke-opacity="0.13" stroke-width="0.8"/>
<circle cx="399.8" cy="524" r="3.35" fill="#E64B35" stroke="#000" stroke-opacity="0.13" stroke-width="0.8"/>
<circle cx="390" cy="528.7" r="3.35" fill="#E64B35" stroke="#000" stroke-opacity="0.13" stroke-width="0.8"/>
<circle cx="433.4" cy="546.6" r="3.35" fill="#E64B35" stroke="#000" stroke-opacity="0.13" stroke-width="0.8"/>
<circle cx="381.3" cy="554" r="3.35" fill="#E64B35" stroke="#000" stroke-opacity="0.13" stroke-width="0.8"/>
<circle cx="417.7" cy="612.2" r="3.35" fill="#E64B35" stroke="#000" stroke-opacity="0.13" stroke-width="0.8"/>
<circle cx="463.1" cy="459.2" r="3.35" fill="#4DBBD5" stroke="#000" stroke-opacity="0.13" stroke-width="0.8"/>
<circle cx="473.9" cy="458.1" r="3.35" fill="#4DBBD5" stroke="#000" stroke-opacity="0.13" stroke-width="0.8"/>
<circle cx="496.1" cy="456.4" r="3.35" fill="#4DBBD5" stroke="#000" stroke-opacity="0.13" stroke-width="0.8"/>
<circle cx="500.1" cy="457.5" r="3.35" fill="#4DBBD5" stroke="#000" stroke-opacity="0.13" stroke-width="0.8"/>
<circle cx="501.8" cy="462.1" r="3.35" fill="#4DBBD5" stroke="#000" stroke-opacity="0.13" stroke-width="0.8"/>
<circle cx="515" cy="459.8" r="3.35" fill="#4DBBD5" stroke="#000" stroke-opacity="0.13" stroke-width="0.8"/>
<circle cx="523.5" cy="460.4" r="3.35" fill="#4DBBD5" stroke="#000" stroke-opacity="0.13" stroke-width="0.8"/>
<circle cx="477.3" cy="463.8" r="3.35" fill="#4DBBD5" stroke="#000" stroke-opacity="0.13" stroke-width="0.8"/>
<circle cx="467.7" cy="472.9" r="3.35" fill="#4DBBD5" stroke="#000" stroke-opacity="0.13" stroke-width="0.8"/>
<circle cx="481.9" cy="472.9" r="3.35" fill="#4DBBD5" stroke="#000" stroke-opacity="0.13" stroke-width="0.8"/>
<circle cx="495" cy="472.3" r="3.35" fill="#4DBBD5" stroke="#000" stroke-opacity="0.13" stroke-width="0.8"/>
<circle cx="516.1" cy="471.8" r="3.35" fill="#4DBBD5" stroke="#000" stroke-opacity="0.13" stroke-width="0.8"/>
<circle cx="462" cy="478.6" r="3.35" fill="#4DBBD5" stroke="#000" stroke-opacity="0.13" stroke-width="0.8"/>
<circle cx="473" cy="501.1" r="3.35" fill="#4DBBD5" stroke="#000" stroke-opacity="0.13" stroke-width="0.8"/>
<circle cx="473.5" cy="601.5" r="3.35" fill="#4DBBD5" stroke="#000" stroke-opacity="0.13" stroke-width="0.8"/>
<circle cx="542" cy="456.5" r="3.35" fill="#00A087" stroke="#000" stroke-opacity="0.13" stroke-width="0.8"/>
<circle cx="548.8" cy="454.8" r="3.35" fill="#00A087" stroke="#000" stroke-opacity="0.13" stroke-width="0.8"/>
<circle cx="559.1" cy="453.1" r="3.35" fill="#00A087" stroke="#000" stroke-opacity="0.13" stroke-width="0.8"/>
<circle cx="557.3" cy="458.8" r="3.35" fill="#00A087" stroke="#000" stroke-opacity="0.13" stroke-width="0.8"/>
<circle cx="567.6" cy="453.7" r="3.35" fill="#00A087" stroke="#000" stroke-opacity="0.13" stroke-width="0.8"/>
<circle cx="572.2" cy="454.8" r="3.35" fill="#00A087" stroke="#000" stroke-opacity="0.13" stroke-width="0.8"/>
<circle cx="566.5" cy="460.5" r="3.35" fill="#00A087" stroke="#000" stroke-opacity="0.13" stroke-width="0.8"/>
<circle cx="584.7" cy="454.8" r="3.35" fill="#00A087" stroke="#000" stroke-opacity="0.13" stroke-width="0.8"/>
<circle cx="593.8" cy="454.2" r="3.35" fill="#00A087" stroke="#000" stroke-opacity="0.13" stroke-width="0.8"/>
<circle cx="590.4" cy="458.8" r="3.35" fill="#00A087" stroke="#000" stroke-opacity="0.13" stroke-width="0.8"/>
<circle cx="601.2" cy="456" r="3.35" fill="#00A087" stroke="#000" stroke-opacity="0.13" stroke-width="0.8"/>
<circle cx="553.4" cy="468.5" r="3.35" fill="#00A087" stroke="#000" stroke-opacity="0.13" stroke-width="0.8"/>
<circle cx="546" cy="473.6" r="3.35" fill="#00A087" stroke="#000" stroke-opacity="0.13" stroke-width="0.8"/>
<circle cx="558.5" cy="474.2" r="3.35" fill="#00A087" stroke="#000" stroke-opacity="0.13" stroke-width="0.8"/>
<circle cx="564.8" cy="477" r="3.35" fill="#00A087" stroke="#000" stroke-opacity="0.13" stroke-width="0.8"/>
<circle cx="584.7" cy="473" r="3.35" fill="#00A087" stroke="#000" stroke-opacity="0.13" stroke-width="0.8"/>
<circle cx="597.8" cy="474.2" r="3.35" fill="#00A087" stroke="#000" stroke-opacity="0.13" stroke-width="0.8"/>
<circle cx="587.4" cy="504.9" r="3.35" fill="#00A087" stroke="#000" stroke-opacity="0.13" stroke-width="0.8"/>
<circle cx="561.5" cy="539.4" r="3.35" fill="#00A087" stroke="#000" stroke-opacity="0.13" stroke-width="0.8"/>
<path d="M410.7 404.5 V400.6 H573.7 V404.5" fill="none" stroke="#000" stroke-width="1.9"/>
<text x="483.50" y="399.8" font-size="18" text-anchor="middle" fill="#000" stroke="#000" stroke-width="0.55">*</text>
<text x="492.10" y="399.8" font-size="18" text-anchor="middle" fill="#000" stroke="#000" stroke-width="0.55">*</text>
<rect x="363.0" y="328.5" width="258.50" height="30.00" fill="#D9D9D9"/>
<line x1="363.0" y1="328.5" x2="363.0" y2="622.4" stroke="#6a6a6a" stroke-width="1.1"/>
<line x1="621.5" y1="328.5" x2="621.5" y2="622.4" stroke="#6a6a6a" stroke-width="1.4"/>
<line x1="363.0" y1="328.5" x2="621.5" y2="328.5" stroke="#6a6a6a" stroke-width="1.4"/>
<line x1="363.0" y1="622.4" x2="621.5" y2="622.4" stroke="#6a6a6a" stroke-width="1.4"/>
<line x1="363.0" y1="358.5" x2="621.5" y2="358.5" stroke="#3a3a3a" stroke-width="1.6"/>
<text x="492.25" y="350.00" font-size="18" font-weight="bold" text-anchor="middle" fill="#000"  stroke="#000" stroke-width="0.3">Simpson</text>
<line x1="358.30" y1="422.1" x2="363.0" y2="422.1" stroke="#333" stroke-width="1.4"/>
<text x="329.58" y="428.60" font-size="18" fill="#111"  stroke="#111" stroke-width="0.3"> .0</text>
<path transform="translate(329.58 428.60) scale(0.008789 -0.008789)" d="M583 0V1102Q413 994 221 894V1061Q466 1180 646 1409H763V0Z" fill="#111" stroke="#111" stroke-width="34.1"/>
<line x1="358.30" y1="499.1" x2="363.0" y2="499.1" stroke="#333" stroke-width="1.4"/>
<text x="354.80" y="505.60" font-size="18" text-anchor="end" fill="#111"  stroke="#111" stroke-width="0.3">0.9</text>
<line x1="358.30" y1="576.4" x2="363.0" y2="576.4" stroke="#333" stroke-width="1.4"/>
<text x="354.80" y="582.90" font-size="18" text-anchor="end" fill="#111"  stroke="#111" stroke-width="0.3">0.8</text>
<text x="411.00" y="645.60" font-size="18" text-anchor="middle" fill="#111"  stroke="#111" stroke-width="0.3">Young</text>
<text x="492.00" y="645.60" font-size="18" text-anchor="middle" fill="#111"  stroke="#111" stroke-width="0.3">Elderly</text>
<text x="573.00" y="645.60" font-size="18" text-anchor="middle" fill="#111"  stroke="#111" stroke-width="0.3">Older</text>
<text transform="translate(312.40 353.2) scale(0.94 1.02)" x="0" y="0" font-size="34.5" font-weight="bold" fill="#000">D</text>
<line x1="663.9" y1="205.60" x2="663.9" y2="233.00" stroke="#A8483A" stroke-width="1.5"/>
<rect x="651.2" y="210.40" width="25.8" height="17.6" fill="#FEF8F6" stroke="#E64B35" stroke-width="1.75"/>
<line x1="651.2" y1="219.2" x2="677" y2="219.2" stroke="#E64B35" stroke-width="1.4"/>
<circle cx="663.9" cy="219.30" r="3.1" fill="#E64B35"/>
<text x="690.00" y="225.40" font-size="18" text-anchor="start" fill="#111"  stroke="#111" stroke-width="0.3">Young</text>
<line x1="663.9" y1="240.00" x2="663.9" y2="267.40" stroke="#4A98AA" stroke-width="1.5"/>
<rect x="651.2" y="244.80" width="25.8" height="17.6" fill="#F6FCFD" stroke="#4DBBD5" stroke-width="1.75"/>
<line x1="651.2" y1="253.6" x2="677" y2="253.6" stroke="#4DBBD5" stroke-width="1.4"/>
<circle cx="663.9" cy="253.70" r="3.1" fill="#4DBBD5"/>
<text x="690.00" y="259.80" font-size="18" text-anchor="start" fill="#111"  stroke="#111" stroke-width="0.3">Elderly</text>
<line x1="663.9" y1="274.40" x2="663.9" y2="301.80" stroke="#19806F" stroke-width="1.5"/>
<rect x="651.2" y="279.20" width="25.8" height="17.6" fill="#F4FBF9" stroke="#00A087" stroke-width="1.75"/>
<line x1="651.2" y1="288.0" x2="677" y2="288.0" stroke="#00A087" stroke-width="1.4"/>
<circle cx="663.9" cy="288.10" r="3.1" fill="#00A087"/>
<text x="690.00" y="294.20" font-size="18" text-anchor="start" fill="#111"  stroke="#111" stroke-width="0.3">Older</text>
</svg></body></html>
